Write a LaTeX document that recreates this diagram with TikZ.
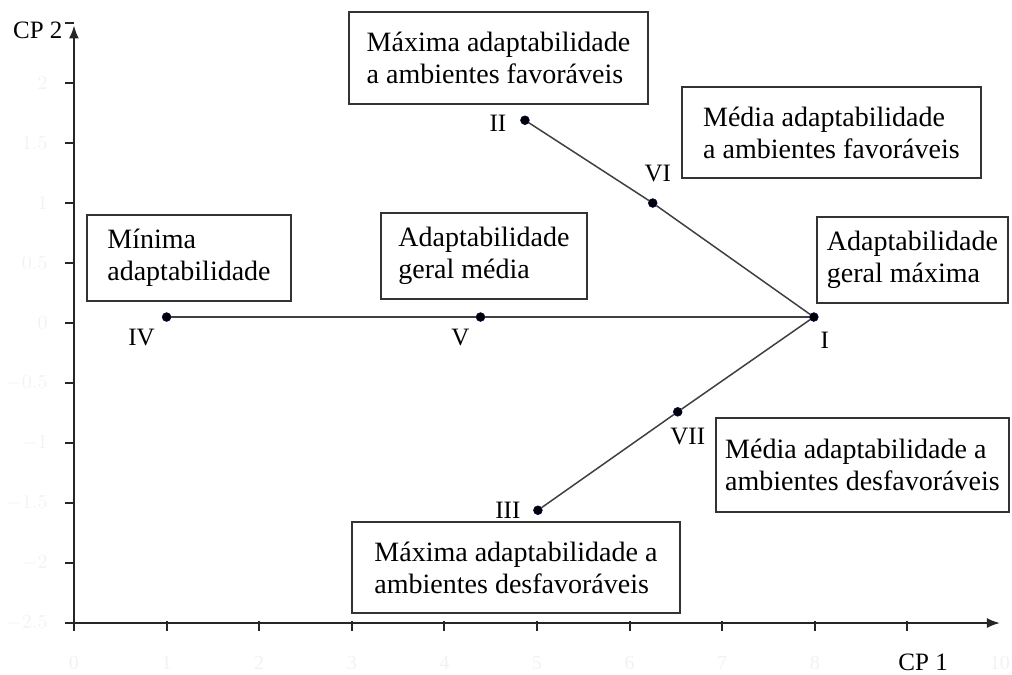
\documentclass[tikz,border=0pt]{standalone}
\usepackage{fontspec}
\setmainfont{Liberation Serif}
\usetikzlibrary{calc}
\usetikzlibrary{positioning}
\usetikzlibrary{arrows.meta}

\begin{document}
\begin{tikzpicture}[
    x=46.3pt, y=60pt,
    axis/.style={line width=1pt, black!85, -{Latex[length=6.5pt,width=5pt]}},
    tick/.style={line width=1pt, black!85},
    ticklabel/.style={black!5, font=\fontsize{10}{12}\selectfont, inner sep=1pt},
    axislabel/.style={font=\fontsize{12.5}{14}\selectfont, inner sep=0pt},
    dot/.style={circle, fill=black, draw=blue!35!black, line width=0.3pt, minimum size=4.4pt, inner sep=0pt},
    lbl/.style={font=\fontsize{12.5}{14}\selectfont, inner sep=0pt},
    link/.style={line width=0.75pt, black!75},
    box/.style={draw=black!80, line width=0.9pt, align=left, inner sep=0pt, font=\fontsize{14}{16}\selectfont}
]
    \useasboundingbox (-0.799,-2.925) rectangle (10.130,2.692);

    % --- Axes
    \coordinate (O) at (0,-2.5);
    \coordinate (ytop) at (0,2.48);
    \coordinate (xend) at (10,-2.5);
    \foreach \y in {-2.5,-2,...,2.5}
        \draw[tick] (0,\y) -- ++(-4.5pt,0);
    \foreach \x in {0,...,9}
        \draw[tick] (\x,-2.5) ++(0,1pt) -- ++(0,-5pt);
    \draw[axis] (O) -- (ytop);
    \draw[axis] (O) -- (xend);

    % --- faint tick labels
    \foreach \y in {-2.5,-2,...,2}
        \node[ticklabel, anchor=east] at (-0.26,\y) {\pgfmathprintnumber{\y}};
    \foreach \x in {0,...,8,10}
        \node[ticklabel] at (\x,-2.83) {\x};

    \node[axislabel, anchor=east] (cp2) at (-0.12,2.44) {CP 2};
    \node[axislabel] (cp1) at (9.17,-2.83) {CP 1};

    % --- Points
    \node[dot] (IV)  at (1,0.05)      {};
    \node[dot] (V)   at (4.39,0.05)   {};
    \node[dot] (I)   at (7.99,0.05)   {};
    \node[dot] (II)  at (4.87,1.69)   {};
    \node[dot] (VI)  at (6.25,1.0)    {};
    \node[dot] (VII) at (6.52,-0.74)  {};
    \node[dot] (III) at (5.01,-1.56)  {};

    \draw[link] (IV) -- (V) -- (I);
    \draw[link] (II) -- (VI) -- (I);
    \draw[link] (III) -- (VII) -- (I);

    \node[lbl] (IVl)  at ($(IV)+(-12.5pt,-10pt)$)  {IV};
    \node[lbl] (Vl)   at ($(V)+(-10pt,-10pt)$)    {V};
    \node[lbl] (Il)   at ($(I)+(5.5pt,-11.5pt)$)  {I};
    \node[lbl] (IIl)  at ($(II)+(-13.5pt,-1.5pt)$) {II};
    \node[lbl] (VIl)  at ($(VI)+(2.5pt,15pt)$)    {VI};
    \node[lbl] (VIIl) at ($(VII)+(5pt,-12.5pt)$)  {VII};
    \node[lbl] (IIIl) at ($(III)+(-15pt,0pt)$)    {III};

    % --- Boxes
    \node[box, minimum width=149.5pt, minimum height=46pt] (maxfav) at (4.584,2.208)
        {Máxima adaptabilidade\\a ambientes favoráveis};
    \node[box, minimum width=149.5pt, minimum height=45.5pt] (medfav) at (8.180,1.588)
        {Média adaptabilidade\\a ambientes favoráveis};
    \node[box, minimum width=102pt, minimum height=43pt] (minima) at (1.242,0.542)
        {Mínima\\adaptabilidade};
    \node[box, minimum width=103pt, minimum height=43pt] (geralmed) at (4.428,0.558)
        {Adaptabilidade\\geral média};
    \node[box, minimum width=95.5pt, minimum height=43pt] (geralmax) at (9.055,0.525)
        {Adaptabilidade\\geral máxima};
    \node[box, minimum width=146.5pt, minimum height=47pt] (meddesf) at (8.515,-1.183)
        {Média adaptabilidade a\\ambientes desfavoráveis};
    \node[box, minimum width=164pt, minimum height=45.5pt] (maxdesf) at (4.773,-2.0375)
        {Máxima adaptabilidade a\\ambientes desfavoráveis};

\end{tikzpicture}
\end{document}
